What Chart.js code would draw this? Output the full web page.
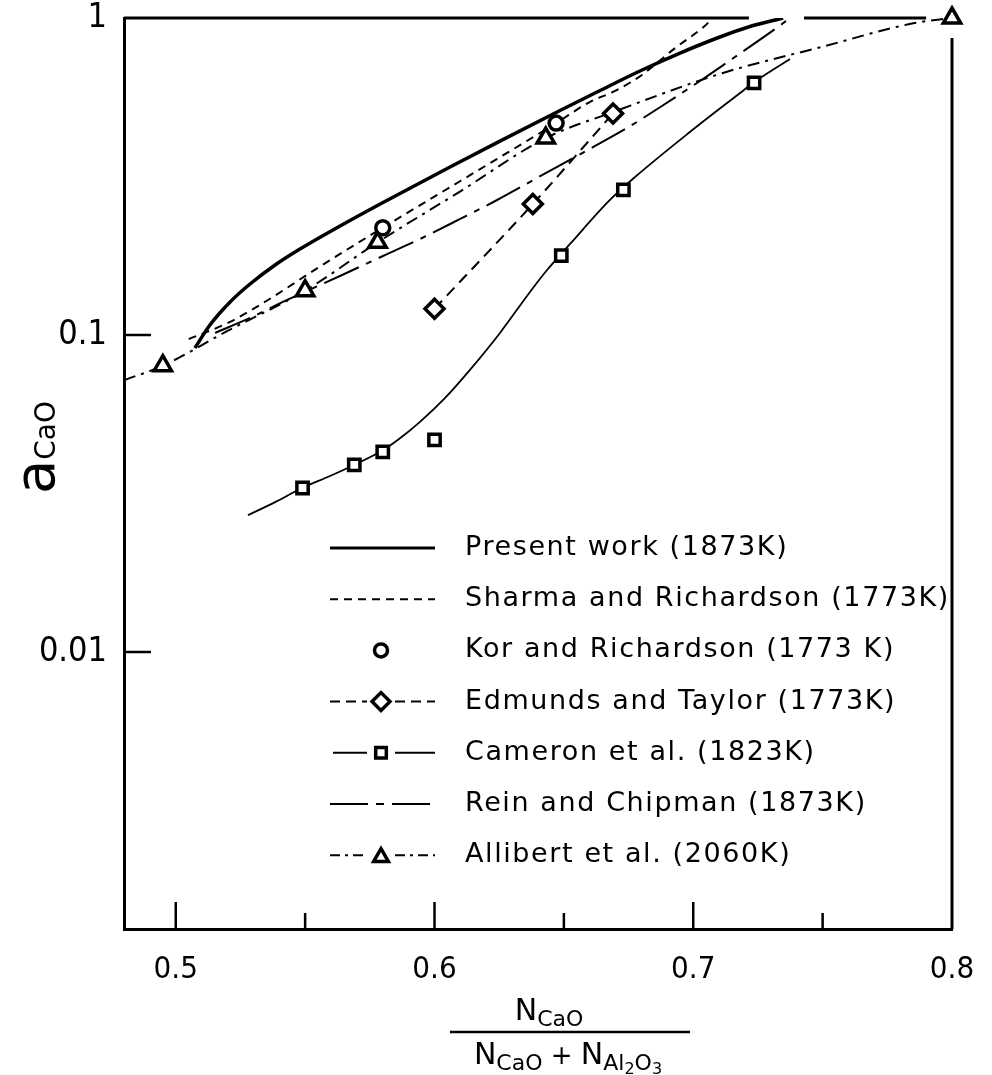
<!DOCTYPE html>
<html>
<head>
<meta charset="utf-8">
<script src="https://cdn.jsdelivr.net/npm/chart.js@4.4.0/dist/chart.umd.min.js"></script>
<style>
  html, body { margin: 0; padding: 0; background: #fff; }
  #wrap { width: 992px; height: 1075px; }
</style>
</head>
<body>
<div id="wrap"><canvas id="grafico"></canvas></div>
<script>
const FONT = "'DejaVu Sans', sans-serif";
const FONT_TICK = "'Liberation Sans Narrow', 'DejaVu Sans Condensed', sans-serif";

// curves (x = N_CaO / (N_CaO + N_Al2O3), y = a_CaO)
const presentX = [0.5074, 0.5132, 0.521, 0.5287, 0.5384, 0.548, 0.5635, 0.5801, 0.606, 0.6253, 0.6485, 0.664, 0.6794, 0.6949, 0.7103, 0.7219, 0.7347];
const presentY = [0.091, 0.1075, 0.1271, 0.1448, 0.1663, 0.1867, 0.2207, 0.2618, 0.3388, 0.409, 0.5106, 0.5906, 0.6805, 0.7752, 0.8711, 0.9401, 1.0];

const sharmaX = [0.505, 0.521, 0.535, 0.556, 0.58, 0.61, 0.647, 0.66, 0.67, 0.68, 0.693, 0.704, 0.7076];
const sharmaY = [0.097, 0.11, 0.128, 0.165, 0.218, 0.306, 0.466, 0.543, 0.59, 0.66, 0.804, 0.937, 1.0];

const korX = [0.58, 0.647];
const korY = [0.218, 0.466];

const edmundsX = [0.6, 0.638, 0.669];
const edmundsY = [0.121, 0.259, 0.5];

const cameronLineX = [0.5279, 0.5384, 0.5488, 0.5596, 0.5689, 0.5797, 0.5859, 0.5944, 0.6041, 0.6137, 0.6253, 0.6369, 0.6435, 0.6524, 0.6678, 0.6775, 0.6987, 0.7181, 0.7231, 0.7374];
const cameronLineY = [0.027, 0.0297, 0.0329, 0.0359, 0.0389, 0.0431, 0.0467, 0.0532, 0.0633, 0.0776, 0.1015, 0.1367, 0.1603, 0.1937, 0.2666, 0.315, 0.4368, 0.58, 0.6237, 0.7425];
const cameronX = [0.549, 0.569, 0.58, 0.6, 0.649, 0.673, 0.7235];
const cameronY = [0.0329, 0.0389, 0.0428, 0.0467, 0.178, 0.287, 0.624];

const reinX = [0.5152, 0.5287, 0.5414, 0.5643, 0.5801, 0.5936, 0.6099, 0.6242, 0.6396, 0.6593, 0.6744, 0.6879, 0.7026, 0.7161, 0.7343, 0.7374];
const reinY = [0.1015, 0.1132, 0.1271, 0.1546, 0.1775, 0.1994, 0.2323, 0.2666, 0.3128, 0.3835, 0.4498, 0.5278, 0.6328, 0.7534, 0.9574, 1.0];

const allibertLineX = [0.48, 0.495, 0.52, 0.55, 0.578, 0.61, 0.643, 0.669, 0.7115, 0.7495, 0.7855, 0.8];
const allibertLineY = [0.072, 0.08, 0.103, 0.138, 0.196, 0.284, 0.418, 0.505, 0.671, 0.81, 0.964, 1.0];
const allibertX = [0.495, 0.55, 0.578, 0.643, 0.8];
const allibertY = [0.08, 0.138, 0.196, 0.418, 1.0];

const xTickValues = [0.5, 0.6, 0.7, 0.8];
const xMajorInner = [0.5, 0.6, 0.7];
const xMinorInner = [0.55, 0.65, 0.75];
const yTickValues = [0.01, 0.1, 1];
const yInner = [0.01, 0.1];

const legendLabels = [
  "Present work (1873K)",
  "Sharma and Richardson (1773K)",
  "Kor and Richardson (1773 K)",
  "Edmunds and Taylor (1773K)",
  "Cameron et al. (1823K)",
  "Rein and Chipman (1873K)",
  "Allibert et al. (2060K)",
];

function pts(xs, ys) {
  return xs.map((x, i) => ({ x: x, y: ys[i] }));
}

function curva(data, width, dash) {
  return {
    data: data,
    showLine: true,
    borderColor: "#000",
    borderWidth: width,
    borderDash: dash,
    pointRadius: 0,
    cubicInterpolationMode: "monotone",
    fill: false,
    order: 2,
  };
}

function marcas(data, style, r) {
  return {
    data: data,
    showLine: false,
    pointStyle: style,
    pointRadius: r,
    pointBorderWidth: 3.5,
    pointBorderColor: "#000",
    pointBackgroundColor: "#fff",
    clip: false,
    order: 1,
  };
}

function drawRuns(ctx, x, y, runs) {
  runs.forEach(function (r) {
    ctx.font = r.size + "px " + FONT;
    ctx.fillText(r.t, x, y + (r.dy || 0));
    x += ctx.measureText(r.t).width;
  });
  return x;
}

function runsWidth(ctx, runs) {
  let w = 0;
  runs.forEach(function (r) {
    ctx.font = r.size + "px " + FONT;
    w += ctx.measureText(r.t).width;
  });
  return w;
}

const moldura = {
  id: "moldura",
  beforeDatasetsDraw(chart) {
    const { ctx, chartArea: a, scales: { x, y } } = chart;
    ctx.save();
    ctx.strokeStyle = "#000";
    ctx.lineWidth = 3;
    ctx.beginPath();
    ctx.moveTo(a.left, a.top);
    ctx.lineTo(x.getPixelForValue(0.7215), a.top);
    ctx.moveTo(x.getPixelForValue(0.7428), a.top);
    ctx.lineTo(x.getPixelForValue(0.79), a.top);
    ctx.moveTo(a.right, a.top + 20);
    ctx.lineTo(a.right, a.bottom);
    ctx.stroke();

    ctx.lineWidth = 2.5;
    ctx.beginPath();
    yInner.forEach(function (v) {
      const py = y.getPixelForValue(v);
      ctx.moveTo(a.left, py);
      ctx.lineTo(a.left + 27, py);
    });
    xMajorInner.forEach(function (v) {
      const px = x.getPixelForValue(v);
      ctx.moveTo(px, a.bottom);
      ctx.lineTo(px, a.bottom - 27);
    });
    xMinorInner.forEach(function (v) {
      const px = x.getPixelForValue(v);
      ctx.moveTo(px, a.bottom);
      ctx.lineTo(px, a.bottom - 16);
    });
    ctx.stroke();
    ctx.restore();
  },
};

const legenda = {
  id: "legenda",
  afterDraw(chart) {
    const ctx = chart.ctx;
    const x0 = 330, x1 = 435, xm = 381, xt = 465;
    const y0 = 548, dy = 51.2;
    const marca = function (style, r, x, y) {
      ctx.setLineDash([]);
      ctx.lineWidth = 3.5;
      ctx.strokeStyle = "#000";
      ctx.fillStyle = "#fff";
      Chart.helpers.drawPoint(ctx, { pointStyle: style, radius: r, borderWidth: 3.5 }, x, y);
    };
    const linha = function (xa, xb, y, w, dash) {
      ctx.setLineDash(dash);
      ctx.lineWidth = w;
      ctx.strokeStyle = "#000";
      ctx.beginPath();
      ctx.moveTo(xa, y);
      ctx.lineTo(xb, y);
      ctx.stroke();
    };
    ctx.save();
    let y = y0;
    linha(x0, x1, y, 3, []);
    y += dy;
    linha(x0, x1, y, 2, [8, 6]);
    y += dy;
    marca("circle", 6.5, xm, y);
    y += dy;
    linha(x0, xm - 14, y, 2, [10, 6]);
    linha(xm + 14, x1, y, 2, [10, 6]);
    marca("rectRot", 9, xm, y);
    y += dy;
    linha(x0 + 3, xm - 14, y, 2, []);
    linha(xm + 14, x1, y, 2, []);
    marca("rect", 7.5, xm, y);
    y += dy;
    linha(x0, x1, y, 2, [38, 8, 8, 8]);
    y += dy;
    linha(x0, xm - 14, y, 2, [10, 5, 3, 5]);
    linha(xm + 14, x1, y, 2, [10, 5, 3, 5]);
    marca("triangle", 8.5, xm, y + 2);

    ctx.setLineDash([]);
    ctx.fillStyle = "#000";
    ctx.font = "27px " + FONT;
    ctx.letterSpacing = "1.6px";
    ctx.textBaseline = "middle";
    ctx.textAlign = "left";
    legendLabels.forEach(function (t, i) {
      ctx.fillText(t, xt, y0 + i * dy);
    });
    ctx.restore();
  },
};

const titulos = {
  id: "titulos",
  afterDraw(chart) {
    const ctx = chart.ctx;
    ctx.save();
    ctx.fillStyle = "#000";
    ctx.textBaseline = "alphabetic";
    ctx.textAlign = "left";

    // y axis title a_CaO, rotated
    ctx.save();
    ctx.translate(54, 494);
    ctx.rotate(-Math.PI / 2);
    drawRuns(ctx, 0, 0, [
      { t: "a", size: 56 },
      { t: "CaO", size: 28, dy: 1 },
    ]);
    ctx.restore();

    // x axis title as a fraction
    const num = [
      { t: "N", size: 30 },
      { t: "CaO", size: 22, dy: 6 },
    ];
    const den = [
      { t: "N", size: 30 },
      { t: "CaO", size: 22, dy: 6 },
      { t: " + ", size: 26 },
      { t: "N", size: 30 },
      { t: "Al", size: 22, dy: 6 },
      { t: "2", size: 16, dy: 10 },
      { t: "O", size: 22, dy: 6 },
      { t: "3", size: 16, dy: 10 },
    ];
    drawRuns(ctx, 549 - runsWidth(ctx, num) / 2, 1020, num);
    drawRuns(ctx, 568 - runsWidth(ctx, den) / 2, 1064, den);
    ctx.lineWidth = 2.5;
    ctx.beginPath();
    ctx.moveTo(450, 1032);
    ctx.lineTo(690, 1032);
    ctx.stroke();
    ctx.restore();
  },
};

new Chart(document.getElementById("grafico"), {
  type: "scatter",
  data: {
    datasets: [
      marcas(pts(korX, korY), "circle", 7),
      marcas(pts(edmundsX, edmundsY), "rectRot", 9.5),
      marcas(pts(cameronX, cameronY), "rect", 8),
      marcas(pts(allibertX, allibertY), "triangle", 10),
      curva(pts(presentX, presentY), 3.5, []),
      curva(pts(sharmaX, sharmaY), 2, [8, 6]),
      curva(pts(edmundsX, edmundsY), 2, [11, 7]),
      curva(pts(cameronLineX, cameronLineY), 1.8, []),
      curva(pts(reinX, reinY), 2, [38, 8, 6, 8]),
      curva(pts(allibertLineX, allibertLineY), 2, [12, 6, 3, 6]),
    ],
  },
  options: {
    responsive: true,
    maintainAspectRatio: false,
    animation: false,
    events: [],
    layout: { padding: { top: 18, right: 40, left: 0, bottom: 0 } },
    plugins: {
      legend: { display: false },
      tooltip: { enabled: false },
    },
    scales: {
      x: {
        type: "linear",
        min: 0.48,
        max: 0.8,
        afterBuildTicks: function (scale) {
          scale.ticks = xTickValues.map(function (v) { return { value: v }; });
        },
        afterFit: function (scale) {
          scale.height = 146;
          scale.paddingLeft = 0;
          scale.paddingRight = 0;
        },
        ticks: {
          color: "#000",
          font: { family: FONT_TICK, size: 31 },
          padding: 22,
          maxRotation: 0,
          callback: function (v) { return v.toFixed(1); },
        },
        grid: { display: false, drawTicks: false },
        border: { display: true, color: "#000", width: 3 },
      },
      y: {
        type: "logarithmic",
        min: Math.pow(10, -2.874),
        max: 1,
        afterBuildTicks: function (scale) {
          scale.ticks = yTickValues.map(function (v) { return { value: v }; });
        },
        afterFit: function (scale) {
          scale.width = 124;
          scale.paddingTop = 0;
          scale.paddingBottom = 0;
        },
        ticks: {
          color: "#000",
          font: { family: FONT_TICK, size: 34 },
          padding: 17,
          callback: function (v) { return String(v); },
        },
        grid: { display: false, drawTicks: false },
        border: { display: true, color: "#000", width: 3 },
      },
    },
  },
  plugins: [moldura, legenda, titulos],
});
</script>
</body>
</html>
